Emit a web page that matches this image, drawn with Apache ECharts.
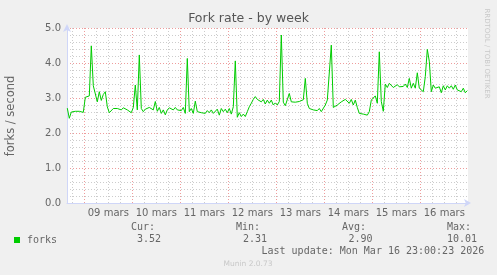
<!DOCTYPE html>
<html>
<head>
<meta charset="utf-8">
<script src="https://cdn.jsdelivr.net/npm/echarts@6/dist/echarts.min.js"></script>
<style>
html,body{margin:0;padding:0;background:#F0F0F0;}
#c{width:497px;height:275px;}
</style>
</head>
<body>
<div id="c"></div>
<script>
// ---- data ----
const startHour = -8.5;   // hours relative to 09 mars 00:00
const stepHours = 1;
const forks = [
 2.71,2.42,2.60,2.55,2.62,2.58,2.62,2.60,2.59,3.02,
 3.00,3.06,4.49,3.35,3.33,2.89,3.18,2.93,3.10,3.18,
 2.75,2.58,2.60,2.70,2.65,2.70,2.75,2.66,2.72,2.68,
 2.66,2.70,2.58,2.73,3.37,2.66,4.23,2.70,2.61,2.68,
 2.66,2.73,2.75,2.66,2.90,2.62,2.73,2.56,2.66,2.52,
 2.66,2.72,2.70,2.66,2.73,2.66,2.68,2.64,2.73,2.56,
 4.13,2.61,2.70,2.56,2.91,2.61,2.64,2.58,2.61,2.56,
 2.64,2.58,2.66,2.56,2.61,2.68,2.51,2.70,2.61,2.68,
 2.58,2.70,2.54,2.75,4.06,2.45,2.58,2.47,2.54,2.47,
 2.61,2.75,2.85,2.96,3.04,2.96,2.99,2.89,2.96,2.83,
 2.94,2.85,2.94,2.80,2.86,2.80,2.90,4.80,2.88,2.78,
 2.80,3.13,2.89,2.92,2.88,2.90,2.90,2.93,2.95,3.56,
 2.85,2.70,2.75,2.66,2.70,2.64,2.70,2.61,2.66,2.80,
 2.94,2.89,4.51,2.73,2.70,2.80,2.75,2.89,2.85,2.96,
 2.94,2.85,2.96,2.80,2.94,2.73,2.56,2.61,2.54,2.58,
 2.51,2.61,2.94,2.96,3.06,2.85,4.32,2.90,2.62,3.40,
 3.30,3.42,3.44,3.30,3.28,3.38,3.32,3.35,3.33,3.40,
 3.30,3.56,3.28,3.42,3.28,3.72,3.28,3.23,3.18,3.61,
 4.39,4.05,3.18,3.37,3.28,3.23,3.32,3.15,3.35,3.23,
 3.35,3.28,3.35,3.25,3.37,3.23,3.28,3.18,3.28,3.15,
 3.21
];
const dayLabels = ['09 mars','10 mars','11 mars','12 mars','13 mars','14 mars','15 mars','16 mars'];
const seriesName = 'forks';
const statLabels = ['Cur:','Min:','Avg:','Max:'];
const statValues = ['3.52','2.31','2.90','10.01'];
const titleText = 'Fork rate - by week';
const yAxisName = 'forks / second';
const lastUpdate = 'Last update: Mon Mar 16 23:00:23 2026';
const footer = 'Munin 2.0.73';
const sideText = 'RRDTOOL / TOBI OETIKER';

// ---- chart ----
const seriesData = forks.map((v, i) => [startHour + i * stepHours, v]);
const AXIS = '#CFD6F8';
const MINOR = '#CCCCCC';
const MAJOR = '#EE9C9C';
const FONT = '#666666';
const sans = 'DejaVu Sans';

const statX = [[131,137],[236,243],[342,348.5],[447,447]];
const graphics = [
  {type:'text', x:248.5, y:19, style:{text:titleText, font:'12.5px "DejaVu Sans"', fill:'#555', align:'center', verticalAlign:'middle'}},
  {type:'text', x:11, y:116, rotation:Math.PI/2, style:{text:yAxisName, font:'11.5px "DejaVu Sans"', fill:FONT, align:'center', verticalAlign:'middle'}},
  {type:'text', x:487, y:53.5, rotation:-Math.PI/2, style:{text:sideText, font:'7px "DejaVu Sans"', fill:'#C8C8C8', align:'center', verticalAlign:'middle'}},
  {type:'rect', shape:{x:14, y:237, width:6, height:6}, style:{fill:'#00CC00'}},
  {type:'text', x:27, y:240, style:{text:seriesName, font:'10px "DejaVu Sans Mono"', fill:FONT, align:'left', verticalAlign:'middle'}},
  {type:'text', x:261.5, y:251.5, style:{text:lastUpdate, font:'10px "DejaVu Sans Mono"', fill:FONT, align:'left', verticalAlign:'middle'}},
  {type:'text', x:248, y:264, style:{text:footer, font:'7.5px "DejaVu Sans"', fill:'#C8C8C8', align:'center', verticalAlign:'middle'}}
];
statLabels.forEach((l, i) => {
  graphics.push({type:'text', x:statX[i][0], y:227.5, style:{text:l, font:'10px "DejaVu Sans Mono"', fill:FONT, align:'left', verticalAlign:'middle'}});
  graphics.push({type:'text', x:statX[i][1], y:239.5, style:{text:statValues[i], font:'10px "DejaVu Sans Mono"', fill:FONT, align:'left', verticalAlign:'middle'}});
});

const chart = echarts.init(document.getElementById('c'), null, {renderer:'canvas'});
chart.setOption({
  animation:false,
  backgroundColor:'#F0F0F0',
  grid:[
    {left:67, top:28, width:401, height:175, show:true, backgroundColor:'#FFFFFF', borderWidth:0, containLabel:false},
    {left:72.3, top:28, width:395.7, height:175, show:false, containLabel:false}
  ],
  xAxis:[
    {gridIndex:0, type:'value', min:-8.65, max:191.85, z:5,
     axisLine:{show:true, onZero:false, lineStyle:{color:AXIS, width:1}, symbol:['none','arrow'], symbolSize:[6,7], symbolOffset:[0,3]},
     axisTick:{show:false}, axisLabel:{show:false}, splitLine:{show:false}},
    {gridIndex:1, type:'value', min:-6, max:191.85, interval:6, z:1,
     axisLine:{show:false}, axisTick:{show:false},
     axisLabel:{show:true, margin:5, color:FONT, fontFamily:sans, fontSize:10, showMinLabel:true, showMaxLabel:false,
       formatter:function(v){ const r = ((v % 24) + 24) % 24; if (Math.abs(r - 12) < 1e-6) { const k = Math.round((v - 12) / 24); return dayLabels[k] || ''; } return ''; }},
     splitLine:{show:true, showMinLine:true, showMaxLine:false, lineStyle:{color:[MINOR, MAJOR, MINOR, MINOR], width:1, type:[1,2]}}}
  ],
  yAxis:[
    {gridIndex:0, type:'value', min:0, max:5, interval:0.2, z:5,
     axisLine:{show:true, onZero:false, lineStyle:{color:AXIS, width:1}, symbol:['none','arrow'], symbolSize:[6,8], symbolOffset:[0,4]},
     axisTick:{show:false},
     axisLabel:{show:true, margin:6, color:FONT, fontFamily:sans, fontSize:10,
       formatter:function(v){ return Math.abs(v - Math.round(v)) < 1e-6 ? v.toFixed(1) : ''; }},
     splitLine:{show:true, showMinLine:false, showMaxLine:true, lineStyle:{color:[MINOR, MINOR, MINOR, MINOR, MAJOR], width:1, type:[1,2]}}},
    {gridIndex:1, type:'value', min:0, max:5, show:false}
  ],
  series:[
    {name:seriesName, type:'line', xAxisIndex:0, yAxisIndex:0, data:seriesData, showSymbol:false, symbol:'none', z:10,
     lineStyle:{color:'#00CC00', width:1}, clip:true}
  ],
  graphic:graphics
});
</script>
</body>
</html>
